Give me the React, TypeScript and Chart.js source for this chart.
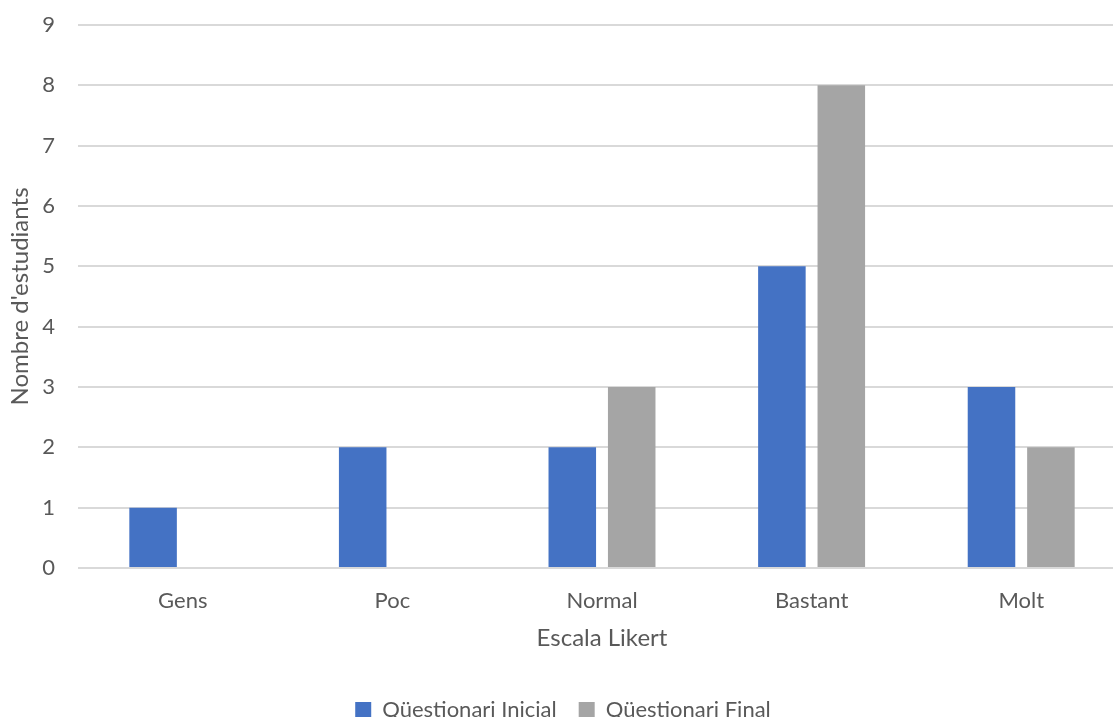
import React, { useEffect, useRef } from "react";
import { Chart, registerables } from "chart.js";

Chart.register(...registerables);

const categories = ["Gens", "Poc", "Normal", "Bastant", "Molt"];
const inicialValues = [1, 2, 2, 5, 3];
const finalValues = [0, 0, 3, 8, 2];
const seriesNames = ["Qüestionari Inicial", "Qüestionari Final"];
const yTicks = [0, 1, 2, 3, 4, 5, 6, 7, 8, 9];

const FONT = "Lato, 'Open Sans', sans-serif";
const TEXT = "#595959";

export default function App() {
  const ref = useRef<HTMLCanvasElement | null>(null);
  useEffect(() => {
    document.body.style.margin = "0";
    const chart = new Chart(ref.current!, {
      type: "bar",
      data: {
        labels: categories,
        datasets: [
          {
            label: seriesNames[0],
            data: inicialValues,
            backgroundColor: "#4472C4",
            categoryPercentage: 0.567,
            barPercentage: 0.8,
          },
          {
            label: seriesNames[1],
            data: finalValues,
            backgroundColor: "#A5A5A5",
            categoryPercentage: 0.567,
            barPercentage: 0.8,
          },
        ],
      },
      options: {
        animation: false,
        responsive: false,
        maintainAspectRatio: false,
        layout: { padding: { top: 25, right: 8, left: 0, bottom: -14 } },
        plugins: {
          legend: {
            position: "bottom",
            labels: {
              font: { family: FONT, size: 22 },
              color: TEXT,
              boxWidth: 16,
              boxHeight: 16,
              padding: 22,
            },
          },
          tooltip: { enabled: false },
        },
        scales: {
          x: {
            afterFit: (axis: any) => {
              axis.height = 109;
            },
            grid: { display: false, drawTicks: false },
            border: { display: false },
            ticks: { font: { family: FONT, size: 22 }, color: TEXT, padding: 20 },
            title: {
              display: true,
              text: "Escala Likert",
              font: { family: FONT, size: 24 },
              color: TEXT,
              padding: { top: 0, bottom: 24.6 },
            },
          },
          y: {
            min: 0,
            max: 9,
            afterBuildTicks: (axis: any) => {
              axis.ticks = yTicks.map((v) => ({ value: v }));
            },
            afterFit: (axis: any) => {
              axis.width = 78;
              axis.paddingTop = 0;
              axis.paddingBottom = 0;
            },
            grid: { color: "#D9D9D9", lineWidth: 2, drawTicks: false },
            border: { display: false },
            ticks: { font: { family: FONT, size: 22 }, color: TEXT, padding: 23 },
            title: {
              display: true,
              text: "Nombre d'estudiants",
              font: { family: FONT, size: 24 },
              color: TEXT,
              padding: { top: 5.6, bottom: 0 },
            },
          },
        },
      },
    });
    return () => chart.destroy();
  }, []);
  return (
    <div style={{ width: 1113, height: 717, overflow: "hidden", background: "#fff" }}>
      <canvas ref={ref} width={1134} height={717} style={{ display: "block" }} />
    </div>
  );
}
